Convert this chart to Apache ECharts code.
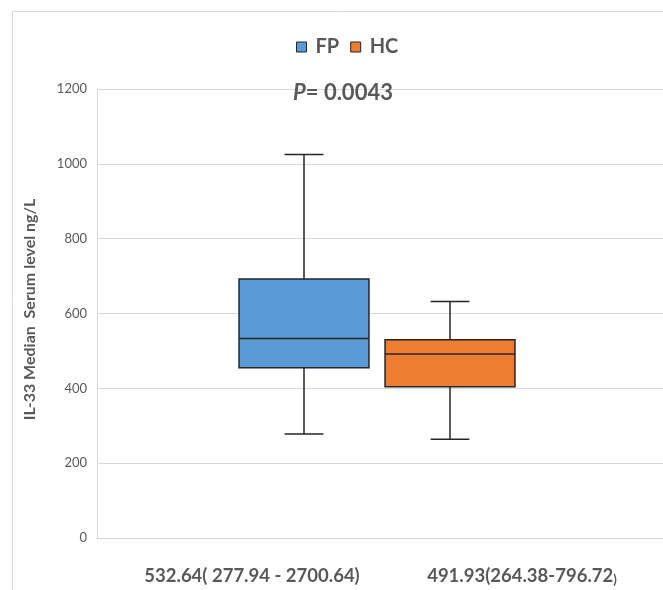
<!DOCTYPE html>
<html>
<head>
<meta charset="utf-8">
<script src="https://cdn.jsdelivr.net/npm/echarts@6/dist/echarts.min.js"></script>
<style>html,body{margin:0;padding:0;background:#fff}#c{width:663px;height:590px}</style>
</head>
<body>
<div id="c"></div>
<script>
// ---- data ----
const groups = ['FP', 'HC'];
const xLabels = ['532.64( 277.94 - 2700.64)', '491.93(264.38-796.72'];
// [min, Q1, median, Q3, max]
const fpStats = [278, 455, 533, 692, 1025];
const hcStats = [264, 404, 492, 530, 632];
const yTicks = { min: 0, max: 1200, interval: 200 };
const pText = '0.0043';
const yName = 'IL-33 Median  Serum level ng/L';

const colors = { FP: '#5B9BD5', HC: '#ED7D31' };
const edge = '#262626';
const txt = '#595959';
const font = 'Lato';

const chart = echarts.init(document.getElementById('c'));

function renderBox(params, api) {
  const x = api.value(0);
  const band = api.size([1, 0])[0];
  const bw = band * 0.89, cw = band * 0.265;
  const cx = api.coord([x, 0])[0];
  const y = i => api.coord([x, api.value(i)])[1];
  const yMin = y(1), yQ1 = y(2), yMed = y(3), yQ3 = y(4), yMax = y(5);
  const ls = { stroke: edge, lineWidth: 1.5 };
  const color = api.visual('color');
  return {
    type: 'group',
    children: [
      { type: 'line', shape: { x1: cx, y1: yMax, x2: cx, y2: yQ3 }, style: ls },
      { type: 'line', shape: { x1: cx, y1: yQ1, x2: cx, y2: yMin }, style: ls },
      { type: 'line', shape: { x1: cx - cw / 2, y1: yMax, x2: cx + cw / 2, y2: yMax }, style: ls },
      { type: 'line', shape: { x1: cx - cw / 2, y1: yMin, x2: cx + cw / 2, y2: yMin }, style: ls },
      { type: 'rect', shape: { x: cx - bw / 2, y: yQ3, width: bw, height: yQ1 - yQ3 },
        style: { fill: color, stroke: edge, lineWidth: 1.5 } },
      { type: 'line', shape: { x1: cx - bw / 2, y1: yMed, x2: cx + bw / 2, y2: yMed }, style: ls }
    ]
  };
}

const option = {
  backgroundColor: '#fff',
  animation: false,
  graphic: [{
    type: 'rect', silent: true,
    shape: { x: 12.5, y: 11.5, width: 720, height: 700 },
    style: { fill: 'none', stroke: '#d9d9d9', lineWidth: 1 }
  }],
  title: {
    left: 293, top: 82, padding: 0,
    text: '{i|P}{n|= ' + pText + '}',
    textStyle: {
      rich: {
        i: { fontFamily: font, fontSize: 22, fontWeight: 'bold', fontStyle: 'italic', color: txt },
        n: { fontFamily: font, fontSize: 22, fontWeight: 'bold', color: txt }
      }
    }
  },
  legend: {
    left: 296, top: 37, padding: 0,
    icon: 'rect', itemWidth: 10, itemHeight: 10, itemGap: 11,
    textStyle: { fontFamily: font, fontSize: 20, fontWeight: 'bold', color: txt, padding: [0, 0, 0, 4] },
    data: groups.map(g => ({ name: g, itemStyle: { color: colors[g], borderColor: edge, borderWidth: 1 } }))
  },
  grid: [
    { left: 97, right: 0, top: 89, bottom: 52 },
    { left: 231, width: 292, top: 89, bottom: 52 },
    { left: 117, width: 540, top: 89, bottom: 52 }
  ],
  xAxis: [
    { gridIndex: 0, type: 'category', data: [''], axisLine: { lineStyle: { color: '#d9d9d9' } },
      axisTick: { show: false }, axisLabel: { show: false } },
    { gridIndex: 1, type: 'category', data: groups, show: false },
    { gridIndex: 2, type: 'category', data: xLabels, axisLine: { show: false }, axisTick: { show: false },
      axisLabel: {
        margin: 29, interval: 0,
        formatter: (v, i) => i === 1 ? '{a|' + v + '}{b|)}' : '{a|' + v + '}',
        rich: {
          a: { fontFamily: font, fontSize: 18.5, fontWeight: 'bold', color: txt },
          b: { fontFamily: font, fontSize: 13, fontWeight: 'bold', color: txt, verticalAlign: 'bottom' }
        }
      } }
  ],
  yAxis: [
    { gridIndex: 0, type: 'value', min: yTicks.min, max: yTicks.max, interval: yTicks.interval,
      axisLine: { show: true, lineStyle: { color: '#d9d9d9' } }, axisTick: { show: false },
      splitLine: { lineStyle: { color: '#d9d9d9', width: 1 } },
      axisLabel: { fontFamily: font, fontSize: 13, color: txt, margin: 10, formatter: v => String(v) },
      name: yName, nameLocation: 'middle', nameGap: 59, nameRotate: 90,
      nameTextStyle: { fontFamily: font, fontSize: 16, fontWeight: 'bold', color: txt, padding: [0, 0, 0, 8] } },
    { gridIndex: 1, type: 'value', min: yTicks.min, max: yTicks.max, show: false },
    { gridIndex: 2, type: 'value', min: yTicks.min, max: yTicks.max, show: false }
  ],
  series: [
    { name: 'FP', type: 'custom', xAxisIndex: 1, yAxisIndex: 1, renderItem: renderBox,
      itemStyle: { color: colors.FP }, encode: { x: 0, y: [1, 2, 3, 4, 5] },
      data: [[0].concat(fpStats)] },
    { name: 'HC', type: 'custom', xAxisIndex: 1, yAxisIndex: 1, renderItem: renderBox,
      itemStyle: { color: colors.HC }, encode: { x: 0, y: [1, 2, 3, 4, 5] },
      data: [[1].concat(hcStats)] }
  ]
};
chart.setOption(option);
</script>
</body>
</html>
